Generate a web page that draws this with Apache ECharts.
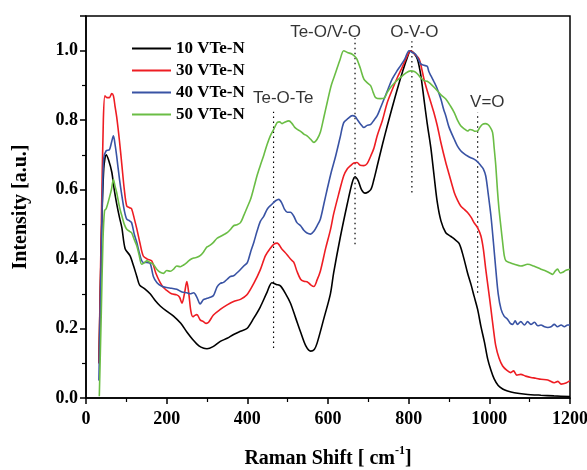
<!DOCTYPE html>
<html>
<head>
<meta charset="utf-8">
<script src="https://cdn.jsdelivr.net/npm/echarts@6/dist/echarts.min.js"></script>
<style>html,body{margin:0;padding:0;background:#fff}#c{width:587px;height:470px}</style>
</head>
<body>
<div id="c"></div>
<script>
const seriesNames = ['10 VTe-N', '30 VTe-N', '40 VTe-N', '50 VTe-N'];
const seriesColors = ['#000000', '#ee1d23', '#3953a4', '#6abd45'];

const black10 = [[32,0.1],[38,0.45],[44,0.66],[50,0.70],[56,0.685],[64,0.65],[70,0.6],[76,0.56],[83,0.52],[89,0.49],[97,0.43],[109,0.41],[118,0.38],[126,0.35],[133,0.325],[145,0.315],[159,0.30],[172,0.28],[184,0.265],[200,0.25],[217,0.236],[235,0.215],[250,0.19],[265,0.168],[280,0.15],[292,0.143],[300,0.142],[315,0.148],[333,0.163],[350,0.172],[366,0.183],[383,0.192],[399,0.2],[416,0.23],[432,0.262],[449,0.305],[461,0.332],[472,0.327],[482,0.323],[495,0.3],[507,0.273],[520,0.23],[532,0.19],[545,0.15],[557,0.135],[566,0.14],[573,0.158],[590,0.23],[606,0.30],[614,0.36],[630,0.46],[648,0.56],[660,0.62],[667,0.637],[675,0.625],[683,0.6],[692,0.59],[706,0.6],[714,0.63],[722,0.668],[735,0.73],[747,0.784],[760,0.84],[772,0.89],[785,0.94],[795,0.975],[805,1.0],[815,0.99],[822,0.975],[830,0.93],[838,0.86],[846,0.79],[855,0.72],[863,0.64],[871,0.563],[880,0.51],[892,0.476],[905,0.465],[913,0.458],[925,0.445],[935,0.41],[946,0.36],[955,0.325],[962,0.294],[971,0.255],[979,0.207],[988,0.16],[996,0.112],[1004,0.08],[1012,0.055],[1022,0.036],[1033,0.026],[1045,0.02],[1062,0.015],[1090,0.011],[1128,0.008],[1160,0.006],[1200,0.004]];

const red30 = [[32,0.1],[38,0.5],[43,0.8],[47,0.87],[52,0.865],[58,0.865],[64,0.877],[68,0.87],[72,0.84],[76,0.81],[83,0.74],[89,0.67],[95,0.6],[101,0.553],[108,0.548],[113,0.545],[120,0.515],[126,0.487],[134,0.445],[142,0.409],[152,0.4],[163,0.395],[173,0.36],[184,0.332],[192,0.318],[200,0.31],[212,0.3],[225,0.297],[232,0.29],[238,0.273],[244,0.3],[250,0.335],[255,0.3],[260,0.25],[265,0.234],[270,0.238],[275,0.24],[283,0.225],[291,0.22],[298,0.215],[304,0.218],[316,0.239],[333,0.255],[350,0.268],[366,0.278],[383,0.284],[399,0.297],[416,0.33],[432,0.369],[445,0.41],[457,0.431],[466,0.443],[474,0.446],[485,0.43],[499,0.412],[507,0.4],[515,0.391],[523,0.365],[532,0.342],[540,0.336],[548,0.335],[557,0.326],[565,0.321],[573,0.34],[581,0.365],[594,0.43],[606,0.484],[614,0.53],[626,0.585],[639,0.64],[648,0.66],[656,0.669],[664,0.677],[672,0.678],[680,0.67],[689,0.669],[697,0.675],[706,0.697],[714,0.72],[722,0.755],[735,0.8],[747,0.851],[760,0.89],[772,0.923],[785,0.955],[797,0.986],[805,1.0],[815,0.99],[826,0.976],[832,0.95],[838,0.918],[846,0.885],[855,0.851],[863,0.82],[871,0.784],[880,0.735],[892,0.678],[900,0.645],[913,0.592],[921,0.57],[929,0.553],[938,0.543],[946,0.534],[955,0.52],[962,0.505],[971,0.49],[979,0.467],[985,0.43],[991,0.372],[998,0.31],[1004,0.256],[1010,0.2],[1016,0.15],[1024,0.115],[1033,0.092],[1043,0.08],[1053,0.073],[1060,0.078],[1068,0.066],[1078,0.068],[1090,0.063],[1103,0.059],[1115,0.057],[1128,0.054],[1145,0.052],[1161,0.044],[1170,0.048],[1178,0.04],[1190,0.043],[1200,0.05]];

const blue40 = [[32,0.05],[36,0.3],[40,0.55],[44,0.69],[50,0.712],[58,0.715],[63,0.735],[68,0.755],[72,0.73],[76,0.697],[83,0.63],[89,0.582],[95,0.54],[101,0.515],[108,0.51],[113,0.505],[120,0.47],[126,0.448],[134,0.41],[142,0.39],[151,0.39],[159,0.388],[167,0.35],[176,0.332],[188,0.322],[200,0.318],[212,0.316],[225,0.313],[238,0.305],[250,0.303],[258,0.3],[267,0.303],[275,0.29],[283,0.271],[291,0.283],[300,0.287],[308,0.29],[316,0.295],[325,0.32],[333,0.33],[341,0.333],[350,0.342],[358,0.35],[366,0.352],[374,0.36],[383,0.37],[391,0.38],[400,0.39],[408,0.42],[416,0.448],[424,0.48],[432,0.508],[441,0.524],[450,0.545],[461,0.558],[470,0.568],[478,0.572],[486,0.56],[492,0.544],[499,0.535],[507,0.535],[515,0.524],[523,0.505],[532,0.496],[540,0.483],[548,0.475],[557,0.472],[565,0.48],[573,0.496],[581,0.515],[590,0.56],[598,0.601],[608,0.65],[619,0.697],[630,0.75],[639,0.793],[650,0.805],[660,0.813],[668,0.81],[672,0.803],[680,0.79],[689,0.779],[697,0.785],[706,0.788],[714,0.8],[722,0.813],[730,0.835],[739,0.861],[749,0.89],[759,0.918],[770,0.94],[780,0.957],[790,0.975],[801,1.0],[809,0.995],[817,0.99],[824,0.975],[830,0.962],[838,0.958],[846,0.955],[850,0.94],[855,0.928],[863,0.91],[871,0.89],[880,0.86],[887,0.83],[892,0.813],[900,0.78],[913,0.745],[921,0.725],[929,0.712],[938,0.703],[946,0.697],[954,0.692],[962,0.688],[971,0.68],[979,0.669],[985,0.66],[991,0.64],[997,0.59],[1004,0.524],[1010,0.45],[1016,0.371],[1022,0.3],[1029,0.256],[1037,0.235],[1045,0.227],[1052,0.215],[1058,0.212],[1064,0.222],[1070,0.212],[1078,0.22],[1087,0.21],[1095,0.22],[1103,0.212],[1112,0.218],[1120,0.208],[1128,0.21],[1137,0.205],[1145,0.203],[1153,0.205],[1161,0.212],[1169,0.205],[1178,0.21],[1186,0.205],[1194,0.21],[1200,0.21]];

const green50 = [[33,0.005],[38,0.25],[42,0.45],[46,0.54],[50,0.545],[58,0.577],[63,0.6],[68,0.63],[72,0.61],[76,0.592],[83,0.55],[89,0.524],[95,0.5],[101,0.486],[108,0.48],[113,0.476],[120,0.455],[126,0.438],[132,0.41],[138,0.385],[145,0.39],[151,0.395],[159,0.39],[167,0.385],[176,0.37],[184,0.362],[192,0.359],[200,0.367],[209,0.365],[218,0.372],[225,0.38],[234,0.378],[242,0.383],[250,0.39],[258,0.398],[267,0.403],[275,0.405],[283,0.41],[291,0.42],[300,0.435],[308,0.44],[316,0.448],[325,0.46],[333,0.465],[341,0.47],[350,0.476],[358,0.485],[366,0.496],[374,0.499],[383,0.505],[391,0.525],[400,0.55],[408,0.572],[416,0.605],[424,0.64],[432,0.669],[441,0.7],[449,0.73],[457,0.755],[466,0.775],[474,0.793],[480,0.795],[486,0.79],[494,0.795],[503,0.798],[511,0.79],[517,0.78],[523,0.774],[532,0.768],[540,0.76],[548,0.755],[557,0.745],[565,0.736],[573,0.745],[581,0.765],[590,0.81],[598,0.851],[608,0.9],[619,0.937],[630,0.975],[639,1.0],[648,0.995],[660,0.99],[668,0.982],[672,0.975],[680,0.95],[689,0.918],[697,0.908],[706,0.899],[712,0.88],[718,0.865],[730,0.862],[739,0.863],[747,0.88],[755,0.894],[767,0.91],[780,0.923],[792,0.935],[805,0.942],[814,0.94],[822,0.933],[830,0.922],[838,0.914],[846,0.912],[855,0.904],[863,0.895],[871,0.885],[880,0.873],[892,0.861],[904,0.84],[913,0.822],[921,0.8],[929,0.784],[938,0.775],[946,0.769],[952,0.773],[958,0.772],[965,0.768],[971,0.769],[977,0.78],[983,0.788],[990,0.79],[996,0.788],[1002,0.78],[1008,0.765],[1012,0.72],[1016,0.669],[1020,0.6],[1024,0.544],[1029,0.49],[1033,0.448],[1037,0.41],[1041,0.395],[1050,0.39],[1062,0.385],[1078,0.38],[1095,0.385],[1110,0.38],[1128,0.371],[1140,0.366],[1150,0.36],[1157,0.356],[1163,0.365],[1169,0.371],[1176,0.36],[1182,0.362],[1190,0.368],[1200,0.371]];

// peak marker lines: [x, yStart, yEnd]
const peakLines = [[465, 0.144, 0.824], [667, 0.443, 1.037], [808, 0.592, 1.027], [971, 0.303, 0.822]];
// peak labels: [x, y, text]
const peakLabels = [[489, 0.862, 'Te-O-Te'], [594, 1.053, 'Te-O/V-O'], [814, 1.053, 'O-V-O'], [995, 0.852, 'V=O']];

const xTicks = { min: 0, max: 1200, interval: 200 };
const yTicks = { min: 0, max: 1.1, interval: 0.2 };

const serif = "'Liberation Serif', 'Times New Roman', serif";
const sans = "'Liberation Sans', Arial, sans-serif";

const seriesData = [black10, red30, blue40, green50];
const series = seriesData.map((d, i) => ({
  name: seriesNames[i],
  type: 'line',
  data: d,
  showSymbol: false,
  symbol: 'none',
  smooth: 0.3,
  lineStyle: { color: seriesColors[i], width: 1.6 },
  itemStyle: { color: seriesColors[i] },
  z: 3 + i
}));
peakLines.forEach((p, i) => {
  series.push({
    name: 'peak' + i,
    type: 'line',
    data: [[p[0], p[1]], [p[0], p[2]]],
    symbol: 'none',
    silent: true,
    lineStyle: { color: '#000', width: 1.2, type: [1.5, 3.5] },
    z: 2
  });
});
series.push({
  name: 'labels',
  type: 'scatter',
  symbolSize: 0,
  silent: true,
  data: peakLabels.map(l => ({ value: [l[0], l[1]], name: l[2] })),
  label: {
    show: true,
    position: 'inside',
    formatter: p => p.name,
    fontFamily: sans,
    fontSize: 17,
    color: '#000'
  },
  z: 10
});

const chart = echarts.init(document.getElementById('c'), null, { renderer: 'canvas' });
chart.setOption({
  animation: false,
  backgroundColor: '#fff',
  grid: {
    left: 86, right: 17, top: 16, bottom: 72,
    containLabel: false, outerBoundsMode: 'none',
    show: true, borderColor: '#000', borderWidth: 1.5, backgroundColor: 'transparent'
  },
  legend: {
    data: seriesNames.map(n => ({ name: n, icon: 'rect' })),
    orient: 'vertical',
    left: 127,
    top: 35,
    itemWidth: 39,
    itemHeight: 2,
    itemGap: 5,
    textStyle: { fontFamily: serif, fontWeight: 'bold', fontSize: 17, color: '#000' }
  },
  xAxis: {
    type: 'value',
    min: xTicks.min, max: xTicks.max, interval: xTicks.interval,
    name: '{a|Raman Shift [ cm}{s|-1}{a|]}',
    nameLocation: 'middle',
    nameGap: 47,
    nameTextStyle: {
      rich: {
        a: { fontFamily: serif, fontWeight: 'bold', fontSize: 20, color: '#000', lineHeight: 24, verticalAlign: 'bottom' },
        s: { fontFamily: serif, fontWeight: 'bold', fontSize: 12, color: '#000', lineHeight: 24, verticalAlign: 'top' }
      }
    },
    axisLine: { show: true, lineStyle: { color: '#000', width: 1.5 } },
    axisTick: { show: true, inside: false, length: 6, lineStyle: { color: '#000', width: 1.5 } },
    minorTick: { show: true, splitNumber: 2, length: 4, lineStyle: { color: '#000', width: 1.2 } },
    splitLine: { show: false },
    axisLabel: { margin: 12, fontFamily: serif, fontWeight: 'bold', fontSize: 18, color: '#000', formatter: v => String(v) }
  },
  yAxis: {
    type: 'value',
    min: yTicks.min, max: yTicks.max, interval: yTicks.interval,
    name: 'Intensity [a.u.]',
    nameLocation: 'middle',
    nameGap: 55,
    nameRotate: 90,
    nameTextStyle: { fontFamily: serif, fontWeight: 'bold', fontSize: 20, color: '#000' },
    axisLine: { show: true, lineStyle: { color: '#000', width: 1.5 } },
    axisTick: { show: true, inside: false, length: 6, lineStyle: { color: '#000', width: 1.5 } },
    minorTick: { show: true, splitNumber: 2, length: 4, lineStyle: { color: '#000', width: 1.2 } },
    splitLine: { show: false },
    axisLabel: {
      margin: 8, fontFamily: serif, fontWeight: 'bold', fontSize: 18, color: '#000',
      showMaxLabel: false,
      formatter: v => (Math.abs(v - 1.1) < 1e-6 ? '' : v.toFixed(1))
    }
  },
  series: series
});
</script>
</body>
</html>
